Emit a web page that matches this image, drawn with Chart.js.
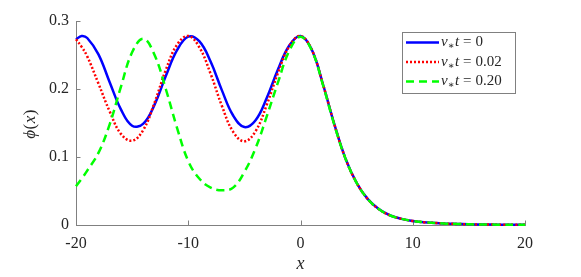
<!DOCTYPE html>
<html>
<head>
<meta charset="utf-8">
<script src="https://cdn.jsdelivr.net/npm/chart.js@4"></script>
<style>
body { margin: 0; background: #ffffff; }
#wrap { width: 581px; height: 277px; }
</style>
</head>
<body>
<div id="wrap"><canvas id="chart" width="581" height="277"></canvas></div>
<script>
let xValues = [-20, -19.5, -19, -18, -17, -16, -15, -14, -13, -12, -11, -10, -9, -8, -7, -6, -5, -4, -3, -2, -1,
    0, 1, 2, 3, 4, 5, 6, 7, 8, 9, 10, 11, 12, 13, 14, 15, 16, 17, 18, 19, 20];

// phi(x) for nu*t = 0
let phiT0 = [0.273, 0.278, 0.275, 0.251, 0.210, 0.170, 0.146, 0.149, 0.177, 0.219, 0.257, 0.277, 0.270, 0.240, 0.198, 0.161, 0.144, 0.154, 0.187, 0.229, 0.264,
    0.278, 0.258, 0.207, 0.149, 0.098, 0.062, 0.038, 0.023, 0.014, 0.009, 0.006, 0.004, 0.003, 0.002, 0.0015, 0.001, 0.0008, 0.0006, 0.0005, 0.0004, 0.0003];

// phi(x) for nu*t = 0.02
let phiT002 = [0.273, 0.262, 0.248, 0.208, 0.167, 0.134, 0.124, 0.140, 0.180, 0.228, 0.265, 0.278, 0.261, 0.222, 0.175, 0.137, 0.123, 0.138, 0.177, 0.224, 0.263,
    0.278, 0.258, 0.207, 0.149, 0.098, 0.062, 0.038, 0.023, 0.014, 0.009, 0.006, 0.004, 0.003, 0.002, 0.0015, 0.001, 0.0008, 0.0006, 0.0005, 0.0004, 0.0003];

// phi(x) for nu*t = 0.20
let phiT020 = [0.057, 0.068, 0.080, 0.106, 0.148, 0.203, 0.254, 0.274, 0.250, 0.200, 0.143, 0.094, 0.068, 0.055, 0.051, 0.055, 0.078, 0.113, 0.160, 0.210, 0.256,
    0.277, 0.257, 0.206, 0.148, 0.098, 0.062, 0.038, 0.023, 0.014, 0.009, 0.006, 0.004, 0.003, 0.002, 0.0015, 0.001, 0.0008, 0.0006, 0.0005, 0.0004, 0.0003];

// the values shown after "nu*t =" in the legend
let legendValues = ["0", "0.02", "0.20"];

let xTicks = [-20, -10, 0, 10, 20];
let yTicks = [0, 0.1, 0.2, 0.3];

let serif = "'Liberation Serif', 'DejaVu Serif', serif";
let axisGray = "#808080";
let textColor = "#262626";

function toPoints(ys)
{
    return xValues.map((x, i) => ({ x: x, y: ys[i] }));
}

// Inward tick marks like the original (MATLAB style)
let tickPlugin =
{
    id: "inwardTicks",
    beforeDatasetsDraw(chart)
    {
        let ctx = chart.ctx;
        let xs = chart.scales.x;
        let ys = chart.scales.y;
        let area = chart.chartArea;
        ctx.save();
        ctx.strokeStyle = axisGray;
        ctx.lineWidth = 1;
        ctx.beginPath();
        for (let t of xTicks)
        {
            let px = Math.round(xs.getPixelForValue(t)) + 0.5;
            ctx.moveTo(px, area.bottom);
            ctx.lineTo(px, area.bottom - 4.5);
        }
        for (let t of yTicks)
        {
            let py = Math.round(ys.getPixelForValue(t)) + 0.5;
            ctx.moveTo(area.left, py);
            ctx.lineTo(area.left + 4.5, py);
        }
        ctx.stroke();
        ctx.restore();
    }
};

// Legend box and axis titles with italic math-like text
let decorPlugin =
{
    id: "decor",
    afterDraw(chart)
    {
        let ctx = chart.ctx;
        let area = chart.chartArea;
        ctx.save();

        // legend box
        let boxW = 113, boxH = 61;
        let boxX = area.right - 10 - boxW;
        let boxY = area.top + 11;
        ctx.fillStyle = "#ffffff";
        ctx.fillRect(boxX, boxY, boxW, boxH);
        ctx.strokeStyle = axisGray;
        ctx.lineWidth = 1;
        ctx.strokeRect(boxX + 0.5, boxY + 0.5, boxW, boxH);

        let datasets = chart.data.datasets;
        for (let i = 0; i < datasets.length; i++)
        {
            let ds = datasets[i];
            let rowY = boxY + 10.5 + i * 19.5;
            ctx.strokeStyle = ds.borderColor;
            ctx.lineWidth = ds.borderWidth;
            ctx.setLineDash(ds.borderDash || []);
            ctx.beginPath();
            ctx.moveTo(boxX + 4, rowY);
            ctx.lineTo(boxX + 37, rowY);
            ctx.stroke();
            ctx.setLineDash([]);

            // "nu_* t = value"
            let tx = boxX + 39;
            ctx.fillStyle = textColor;
            ctx.textBaseline = "middle";
            ctx.textAlign = "left";
            ctx.font = "italic 15px " + serif;
            ctx.fillText("ν", tx, rowY);
            tx += ctx.measureText("ν").width;
            ctx.font = "10px " + serif;
            ctx.fillText("∗", tx, rowY + 4);
            tx += ctx.measureText("∗").width + 0.5;
            ctx.font = "italic 15px " + serif;
            ctx.fillText("t", tx, rowY);
            tx += ctx.measureText("t").width + 4;
            ctx.font = "15px " + serif;
            ctx.fillText("=", tx, rowY);
            tx += ctx.measureText("=").width + 4;
            ctx.fillText(legendValues[i], tx, rowY);
        }

        // x axis title
        ctx.fillStyle = textColor;
        ctx.font = "italic 18px " + serif;
        ctx.textAlign = "center";
        ctx.textBaseline = "middle";
        ctx.fillText("x", (area.left + area.right) / 2, area.bottom + 39);

        // y axis title, rotated
        ctx.translate(31, (area.top + area.bottom) / 2 + 1);
        ctx.rotate(-Math.PI / 2);
        let parts = [["ϕ", "italic"], ["(", ""], ["x", "italic"], [")", ""]];
        let total = 0;
        for (let p of parts)
        {
            ctx.font = (p[1] ? p[1] + " " : "") + "17px " + serif;
            total += ctx.measureText(p[0]).width + 0.5;
        }
        let px = -total / 2;
        ctx.textAlign = "left";
        for (let p of parts)
        {
            ctx.font = (p[1] ? p[1] + " " : "") + "17px " + serif;
            ctx.fillText(p[0], px, 0);
            px += ctx.measureText(p[0]).width + 0.5;
        }
        ctx.restore();
    }
};

new Chart(document.getElementById("chart"),
{
    type: "line",
    data:
    {
        datasets: [
            {
                data: toPoints(phiT0),
                borderColor: "#0000ff",
                borderWidth: 2.5,
                order: 2
            },
            {
                data: toPoints(phiT002),
                borderColor: "#ff0000",
                borderWidth: 2.5,
                borderDash: [2, 2],
                order: 1
            },
            {
                data: toPoints(phiT020),
                borderColor: "#00ff00",
                borderWidth: 2.5,
                borderDash: [8, 5],
                order: 0
            }
        ]
    },
    options:
    {
        responsive: false,
        animation: false,
        devicePixelRatio: 1,
        layout: { padding: { left: 0, right: 56, top: 21, bottom: 0 } },
        elements:
        {
            point: { radius: 0 },
            line: { tension: 0.4, fill: false, borderCapStyle: "butt" }
        },
        datasets: { line: { clip: false } },
        plugins:
        {
            legend: { display: false },
            tooltip: { enabled: false }
        },
        scales:
        {
            x:
            {
                type: "linear",
                min: -20,
                max: 20,
                grid: { display: false, drawTicks: false },
                border: { display: true, color: axisGray, width: 1 },
                ticks:
                {
                    stepSize: 10,
                    padding: 9,
                    color: textColor,
                    font: { family: serif, size: 16 },
                    maxRotation: 0
                },
                afterFit(scale)
                {
                    scale.height = 52;
                    scale.paddingLeft = 0;
                    scale.paddingRight = 0;
                }
            },
            y:
            {
                min: 0,
                max: 0.3,
                grid: { display: false, drawTicks: false },
                border: { display: true, color: axisGray, width: 1 },
                ticks:
                {
                    stepSize: 0.1,
                    padding: 7,
                    color: textColor,
                    font: { family: serif, size: 16 }
                },
                afterFit(scale)
                {
                    scale.width = 76;
                    scale.paddingTop = 0;
                    scale.paddingBottom = 0;
                }
            }
        }
    },
    plugins: [tickPlugin, decorPlugin]
});
</script>
</body>
</html>
